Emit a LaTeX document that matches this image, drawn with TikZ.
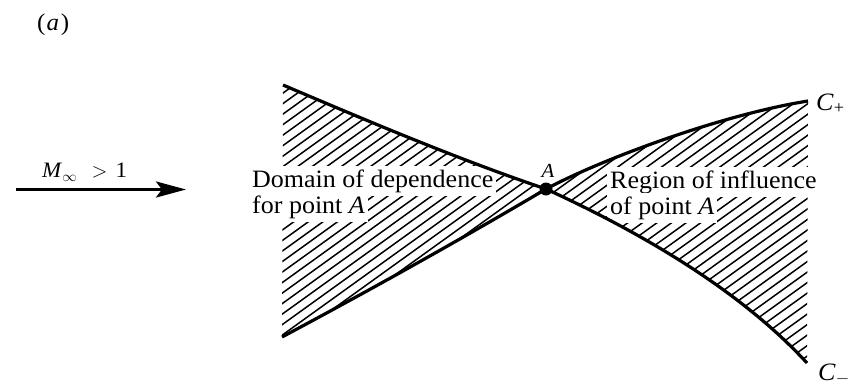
\documentclass[tikz,border=0pt]{standalone}
\usepackage{fontspec}
\setmainfont[FakeStretch=1.04]{Liberation Serif}
\usetikzlibrary{arrows.meta}
\begin{document}
\begin{tikzpicture}[x=1pt,y=-1pt,
  curve/.style={line width=3.2pt},
  hatchline/.style={line width=1.5pt},
  lbl/.style={font=\fontsize{25}{26}\selectfont, fill=white, inner xsep=3pt, inner ysep=3.5pt, anchor=base west},
  mark lbl/.style={anchor=base west, inner sep=0pt}
]
\useasboundingbox (0,0) rectangle (850,386);
\coordinate (A) at (546,189);
\coordinate (UL) at (283,85);
\coordinate (LL) at (282,337);
\coordinate (CP) at (808,101);
\coordinate (CM) at (807,363);
\coordinate (arrS) at (16,189.5);
\coordinate (arrE) at (186,189.5);

% hatching, left region (lines y + 0.72 x = c)
\begin{scope}
\clip (UL) .. controls (370,122) and (460,160) .. (A)
      .. controls (458,241) and (370,290) .. (LL) -- cycle;
\foreach \c in {275.8,286.3,...,600} \draw[hatchline] (250,\c-180) -- (600,\c-432);
\end{scope}
% hatching, right region
\begin{scope}
\clip (A) .. controls (600,160) and (720,115) .. (CP) -- (CM)
      .. controls (740,290) and (640,232) .. (A) -- cycle;
\foreach \c in {569.8,580.3,...,960} \draw[hatchline] (520,\c-374.4) -- (830,\c-597.6);
\end{scope}

% labels with white background
\node[lbl] (dom1) at (249,187) {Domain of dependence};
\node[lbl] (dom2) at (249,213) {for point \textit{A}};
\node[lbl] (reg1) at (607,188) {Region of influence};
\node[lbl] (reg2) at (607,214) {of point \textit{A}};

% characteristics
\draw[curve] (UL) .. controls (370,122) and (460,160) .. (A);
\draw[curve] (A) .. controls (458,241) and (370,290) .. (LL);
\draw[curve] (A) .. controls (600,160) and (720,115) .. (CP);
\draw[curve] (A) .. controls (640,232) and (740,290) .. (CM);
\fill (A) circle (6.5pt);

\node[anchor=base, inner sep=0pt, font=\fontsize{20}{20}\selectfont\itshape] (labA) at (548,177) {A};
\node[mark lbl, font=\fontsize{25}{25}\selectfont] (labCP) at (816,110) {\textit{C}\textsubscript{+}};
\node[mark lbl, font=\fontsize{25}{25}\selectfont] (labCM) at (818,380) {\textit{C}\textsubscript{$-$}};

% free stream arrow
\draw[line width=3.5pt, -{Stealth[length=30pt,width=16pt,inset=6pt]}] (arrS) -- (arrE);
\node[mark lbl, font=\fontsize{22}{22}\selectfont] (mach) at (42,177)
  {\textit{M}\raisebox{-4pt}{\fontsize{15}{15}\selectfont$\infty$}\hspace{15pt}$>$\hspace{8pt}1};
\node[mark lbl, font=\fontsize{24}{24}\selectfont] (pa) at (37,30) {(\hspace{1pt}\textit{a}\hspace{2pt})};
\end{tikzpicture}
\end{document}
